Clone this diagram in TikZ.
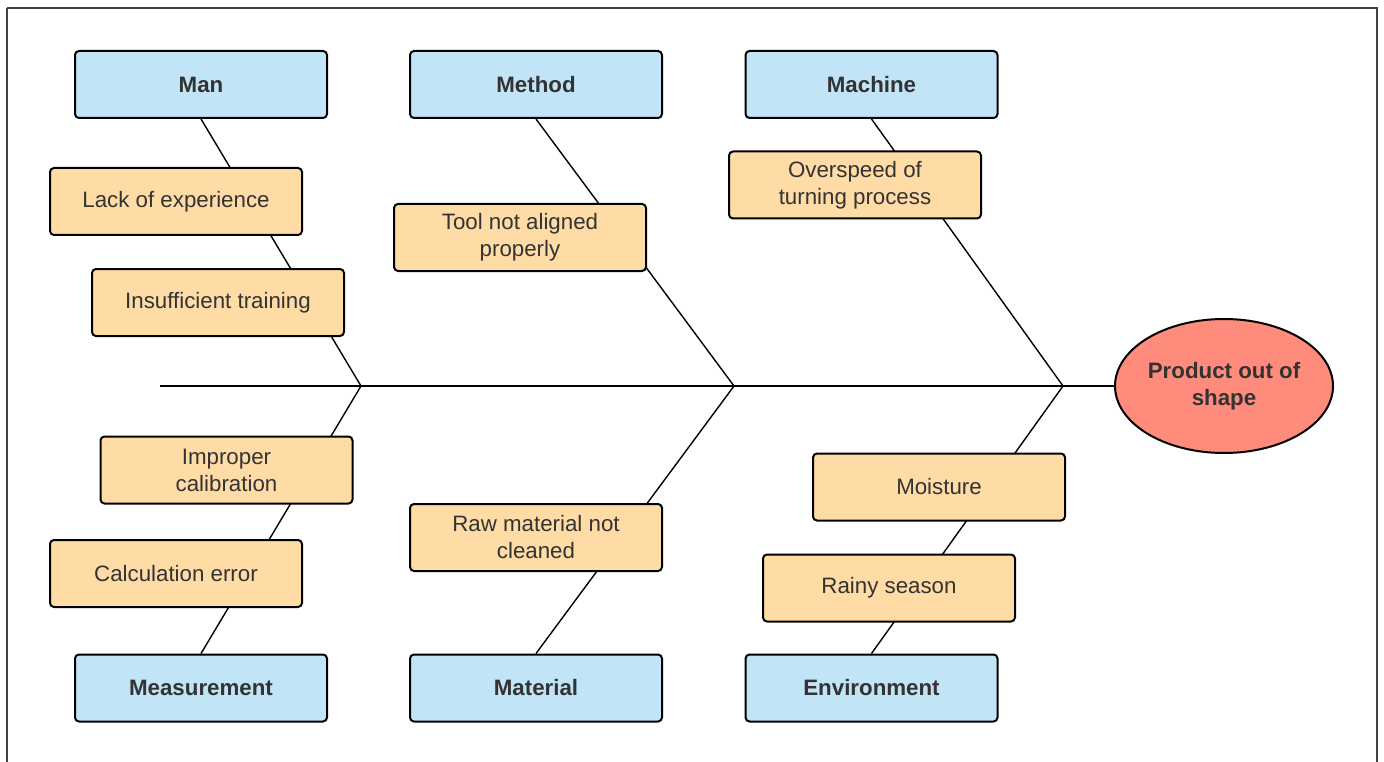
\documentclass[tikz,border=0pt]{standalone}
\usepackage{fontspec}
\setmainfont{Liberation Sans}
\usetikzlibrary{shapes.geometric}
\definecolor{catblue}{RGB}{193,228,247}
\definecolor{causeor}{RGB}{255,219,166}
\definecolor{effred}{RGB}{255,139,125}
\definecolor{txt}{RGB}{51,51,51}
\begin{document}
\begin{tikzpicture}[x=1pt,y=-1pt,
  base/.style={draw=black,line width=2pt,rounded corners=4pt,minimum width=252pt,minimum height=67pt,inner sep=0pt,align=center,text=txt,font=\fontsize{22.3}{27}\selectfont},
  cat/.style={base,fill=catblue,font=\fontsize{22.3}{27}\selectfont\bfseries},
  cause/.style={base,fill=causeor},
  bone/.style={draw=black,line width=1.4pt},
  spine/.style={draw=black,line width=1.2pt}]
\useasboundingbox (0,0) rectangle (1384,762);
\draw[line width=2pt,draw=black!75] (7,8) -- (1377,8) -- (1377,770) (7,770) -- (7,8);
% joints
\coordinate (j1) at (361,386);
\coordinate (j2) at (734,386);
\coordinate (j3) at (1063,386);
\coordinate (tail) at (160,386);
% category nodes
\node[cat] (man) at (201,84.5) {Man};
\node[cat] (method) at (536,84.5) {Method};
\node[cat] (machine) at (871.5,84.5) {Machine};
\node[cat] (meas) at (201,688) {Measurement};
\node[cat] (mat) at (536,688) {Material};
\node[cat] (env) at (871.5,688) {Environment};
\node[ellipse,draw=black,line width=2pt,fill=effred,minimum width=218pt,minimum height=134pt,inner sep=0pt,align=center,text=txt,font=\fontsize{22.3}{27}\selectfont\bfseries] (eff) at (1224,386) {Product out of\\shape};
% bones
\draw[spine] (tail) -- (eff.west);
\draw[bone] (man.south) -- (j1);
\draw[bone] (method.south) -- (j2);
\draw[bone] (machine.south) -- (j3);
\draw[bone] (meas.north) -- (j1);
\draw[bone] (mat.north) -- (j2);
\draw[bone] (env.north) -- (j3);
% cause nodes
\node[cause] (c1) at (176,201.5) {Lack of experience};
\node[cause] (c2) at (218,302.5) {Insufficient training};
\node[cause] (c3) at (520,237.5) {Tool not aligned\\properly};
\node[cause] (c4) at (855,185) {Overspeed of\\turning process};
\node[cause] (c5) at (226.5,470) {Improper\\calibration};
\node[cause] (c6) at (176,573.5) {Calculation error};
\node[cause] (c7) at (536,537.5) {Raw material not\\cleaned};
\node[cause] (c8) at (939,487) {Moisture};
\node[cause] (c9) at (889,588) {Rainy season};
\end{tikzpicture}
\end{document}
